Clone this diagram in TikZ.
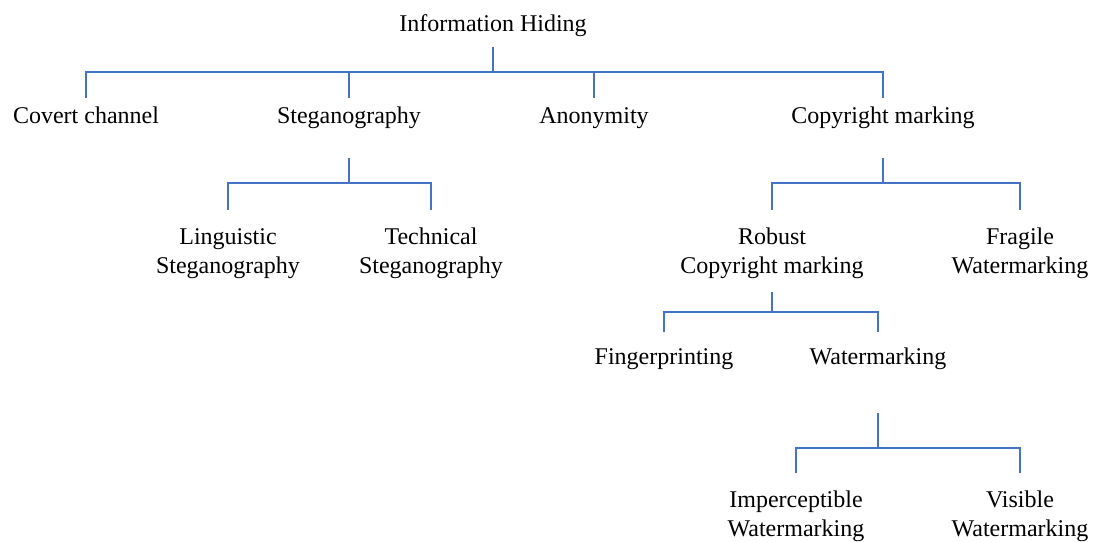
\documentclass[tikz,border=0pt]{standalone}
\usepackage{fontspec}
\setmainfont{Liberation Serif}
\definecolor{lineblue}{HTML}{4472C4}
\begin{document}
\begin{tikzpicture}[x=1pt,y=-1pt,
  lbl/.style={font=\fontsize{24}{29.5}\selectfont, align=center, inner sep=0pt, anchor=base},
  conn/.style={draw=lineblue, line width=1.5pt}]
\useasboundingbox (0,0) rectangle (1095,541);
\fill[white] (0,0) rectangle (1095,541);
% nodes
\node[lbl] (ih) at (493,31) {Information Hiding};
\node[lbl] (cc) at (86,123) {Covert channel};
\node[lbl] (st) at (349,123) {Steganography};
\node[lbl] (an) at (594,123) {Anonymity};
\node[lbl] (cm) at (883,123) {Copyright marking};
\node[lbl] (ls) at (228,273.5) {Linguistic\\Steganography};
\node[lbl] (ts) at (431,273.5) {Technical\\Steganography};
\node[lbl] (rc) at (772,273.5) {Robust\\Copyright marking};
\node[lbl] (fw) at (1020,273.5) {Fragile\\Watermarking};
\node[lbl] (fp) at (664,364) {Fingerprinting};
\node[lbl] (wm) at (878,364) {Watermarking};
\node[lbl] (iw) at (796,536.5) {Imperceptible\\Watermarking};
\node[lbl] (vw) at (1020,536.5) {Visible\\Watermarking};
% connectors
\draw[conn] (ih |- 0,47) -- (ih |- 0,72);
\draw[conn] (cc |- 0,98) -- (cc |- 0,72) -| (cm |- 0,98);
\draw[conn] (st |- 0,72) -- (st |- 0,98);
\draw[conn] (an |- 0,72) -- (an |- 0,98);
\draw[conn] (st |- 0,158) -- (st |- 0,183);
\draw[conn] (ls |- 0,210) -- (ls |- 0,183) -| (ts |- 0,210);
\draw[conn] (cm |- 0,158) -- (cm |- 0,183);
\draw[conn] (rc |- 0,210) -- (rc |- 0,183) -| (fw |- 0,210);
\draw[conn] (rc |- 0,292) -- (rc |- 0,312);
\draw[conn] (fp |- 0,332) -- (fp |- 0,312) -| (wm |- 0,332);
\draw[conn] (wm |- 0,413) -- (wm |- 0,448);
\draw[conn] (iw |- 0,473) -- (iw |- 0,448) -| (vw |- 0,473);
\end{tikzpicture}
\end{document}
